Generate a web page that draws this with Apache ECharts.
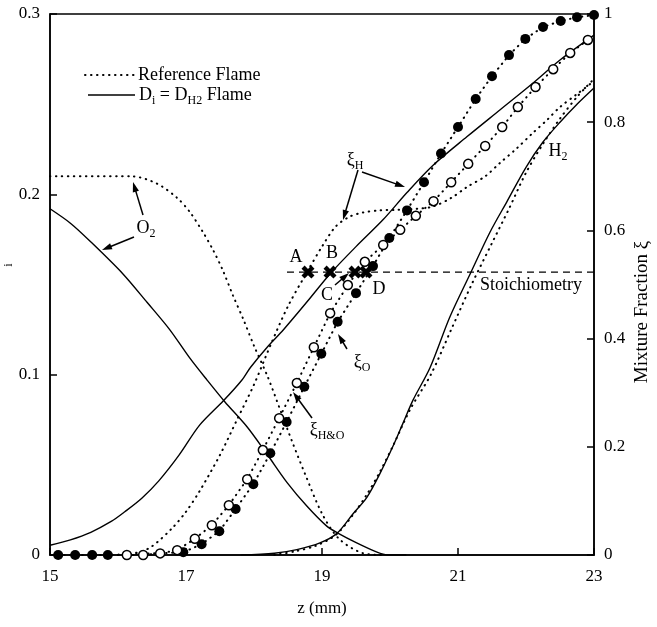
<!DOCTYPE html>
<html><head><meta charset="utf-8">
<script src="https://cdn.jsdelivr.net/npm/echarts@6/dist/echarts.min.js"></script>
<style>html,body{margin:0;padding:0;background:#fff}#c{width:657px;height:627px}</style>
</head><body><div id="c"></div>
<script>
// ---- data (z in mm) ----
const o2Ref = [[15,0.21],[16.2,0.21],[16.57,0.206],[16.87,0.198],[17.06,0.19],[17.25,0.179],[17.4,0.169],[17.54,0.158],[17.69,0.144],[17.84,0.131],[18.0,0.116],[18.2,0.099],[18.4,0.079],[18.57,0.062],[18.75,0.045],[19.0,0.023],[19.25,0.009],[19.6,0.001],[19.9,0]];
const o2Sol = [[15,0.192],[15.3,0.184],[15.59,0.174],[16.07,0.156],[16.43,0.14],[16.76,0.125],[17.06,0.109],[17.31,0.097],[17.57,0.085],[17.9,0.071],[18.19,0.056],[18.49,0.04],[18.78,0.027],[19.07,0.016],[19.24,0.012],[19.51,0.0067],[19.8,0.0017],[19.96,0],[20.24,0]];
const h2Sol = [[17.8,0],[18.3,0.001],[18.63,0.003],[18.97,0.0067],[19.22,0.012],[19.46,0.023],[19.66,0.032],[19.85,0.045],[20.04,0.06],[20.19,0.073],[20.34,0.086],[20.59,0.104],[20.88,0.132],[21.18,0.156],[21.47,0.179],[21.72,0.196],[22.0,0.215],[22.25,0.229],[22.5,0.24],[22.75,0.25],[23,0.259]];
const h2Ref = [[18.3,0],[18.6,0.002],[18.9,0.005],[19.2,0.011],[19.45,0.022],[19.65,0.033],[19.85,0.046],[20.05,0.061],[20.3,0.081],[20.6,0.1],[20.9,0.125],[21.2,0.15],[21.5,0.173],[21.75,0.192],[22.0,0.212],[22.25,0.228],[22.5,0.242],[22.75,0.254],[23,0.264]];
const xiHRef = [[16.0,0],[16.3,0.005],[16.5,0.016],[16.8,0.05],[17.0,0.08],[17.2,0.118],[17.5,0.185],[17.75,0.25],[18.0,0.315],[18.25,0.39],[18.5,0.46],[18.78,0.523],[19.0,0.57],[19.2,0.607],[19.4,0.625],[19.6,0.633],[19.85,0.637],[20.1,0.638],[20.4,0.64],[20.63,0.644],[20.9,0.66],[21.13,0.68],[21.4,0.7],[21.62,0.725],[21.85,0.75],[22.1,0.78],[22.3,0.803],[22.5,0.828],[22.75,0.852],[23,0.876]];
const xiHSol = [[15,0.018],[15.3,0.028],[15.6,0.042],[15.9,0.062],[16.1,0.08],[16.35,0.105],[16.6,0.137],[16.9,0.185],[17.2,0.24],[17.55,0.285],[17.82,0.323],[17.95,0.347],[18.2,0.385],[18.43,0.416],[18.78,0.468],[19.12,0.52],[19.5,0.57],[19.9,0.62],[20.25,0.67],[20.63,0.72],[21.13,0.773],[21.62,0.823],[22.1,0.872],[22.5,0.915],[23,0.961]];
const filledZ = [15.12,15.37,15.62,15.85,16.96,17.23,17.49,17.73,17.99,18.24,18.48,18.74,18.99,19.23,19.5,19.75,19.99,20.25,20.5,20.75,21.0,21.26,21.5,21.75,21.99,22.25,22.51,22.75,23.0];
const filledXi = [0,0,0,0,0.005,0.02,0.044,0.085,0.131,0.188,0.246,0.311,0.372,0.431,0.484,0.534,0.586,0.637,0.689,0.742,0.791,0.843,0.885,0.924,0.954,0.976,0.987,0.994,0.998];
const openZ = [16.13,16.37,16.62,16.87,17.13,17.38,17.63,17.9,18.13,18.37,18.63,18.88,19.12,19.38,19.63,19.9,20.15,20.38,20.64,20.9,21.15,21.4,21.65,21.88,22.14,22.4,22.65,22.91];
const openXi = [0,0,0.003,0.009,0.03,0.055,0.092,0.14,0.194,0.253,0.318,0.384,0.447,0.499,0.542,0.573,0.601,0.627,0.654,0.689,0.723,0.756,0.791,0.828,0.865,0.898,0.928,0.952];
const stoichXi = 0.523;
const stoichZ = [18.485, 23];
const crossZ = [18.794, 19.118, 19.485, 19.647];
const xTicks = [15, 17, 19, 21, 23];
const leftTicks = [0, 0.1, 0.2, 0.3];
const rightTicks = [0, 0.2, 0.4, 0.6, 0.8, 1];

const FONT = '"Liberation Serif","Times New Roman",serif';
const DOT = [0.5, 5.5];
const chart = echarts.init(document.getElementById('c'));

function lineSeries(data, yi, dotted, extra) {
  return Object.assign({
    type: 'line', data: data, yAxisIndex: yi, showSymbol: false, smooth: 0.3,
    silent: true, animation: false,
    lineStyle: dotted ? {color:'#000', width:2, type: DOT, cap:'round'} : {color:'#000', width:1.4}
  }, extra || {});
}
const zip = (a, b) => a.map((v, i) => [v, b[i]]);
const xPath = 'path://M0,2.4 L2.4,0 L5,2.6 L7.6,0 L10,2.4 L7.4,5 L10,7.6 L7.6,10 L5,7.4 L2.4,10 L0,7.6 L2.6,5 Z';

const axisCommon = {
  axisLine: {show: true, lineStyle: {color: '#000', width: 1.5}},
  axisTick: {show: true, inside: true, length: 7, lineStyle: {color: '#000', width: 1.5}},
  splitLine: {show: false},
  axisLabel: {color: '#000', fontFamily: FONT, fontSize: 17}
};

chart.setOption({
  animation: false,
  backgroundColor: '#fff',
  grid: {left: 50, right: 63, top: 14, bottom: 72, show: true, borderColor: '#000', borderWidth: 1.5,
         containLabel: false, outerBoundsMode: 'none'},
  xAxis: Object.assign({}, axisCommon, {
    type: 'value', min: xTicks[0], max: xTicks[xTicks.length-1], interval: 2,
    name: 'z (mm)', nameLocation: 'middle', nameGap: 45,
    nameTextStyle: {color: '#000', fontFamily: FONT, fontSize: 17},
    axisLabel: Object.assign({}, axisCommon.axisLabel, {margin: 13})
  }),
  yAxis: [
    Object.assign({}, axisCommon, {
      type: 'value', min: leftTicks[0], max: leftTicks[leftTicks.length-1], interval: 0.1, position: 'left',
      axisLabel: Object.assign({}, axisCommon.axisLabel, {margin: 10})
    }),
    Object.assign({}, axisCommon, {
      type: 'value', min: rightTicks[0], max: rightTicks[rightTicks.length-1], interval: 0.2, position: 'right',
      axisLabel: Object.assign({}, axisCommon.axisLabel, {margin: 10})
    })
  ],
  series: [
    lineSeries(o2Ref, 0, true),
    lineSeries(o2Sol, 0, false),
    lineSeries(h2Ref, 0, true),
    lineSeries(h2Sol, 0, false),
    lineSeries(xiHRef, 1, true),
    lineSeries(xiHSol, 1, false),
    {type: 'line', yAxisIndex: 1, data: [[stoichZ[0], stoichXi], [stoichZ[1], stoichXi]], showSymbol: false,
     lineStyle: {color: '#000', width: 1.3, type: [7, 5]}, silent: true},
    lineSeries(zip(filledZ, filledXi), 1, true, {showSymbol: true, symbol: 'circle', symbolSize: 10, smooth: false,
      itemStyle: {color: '#000'}}),
    lineSeries(zip(openZ, openXi), 1, true, {showSymbol: true, symbol: 'circle', symbolSize: 9, smooth: false,
      itemStyle: {color: '#fff', borderColor: '#000', borderWidth: 1.5}}),
    {type: 'scatter', yAxisIndex: 1, data: crossZ.map(z => [z, stoichXi]), symbol: xPath, symbolSize: 13,
     itemStyle: {color: '#000', opacity: 1}, silent: true, z: 5}
  ]
});

// ---- annotations ----
function arrow(x1, y1, x2, y2) {
  const a = Math.atan2(y2 - y1, x2 - x1), L = 10, W = 3.2;
  const bx = x2 - L * Math.cos(a), by = y2 - L * Math.sin(a);
  return [
    {type: 'line', shape: {x1: x1, y1: y1, x2: bx + 2*Math.cos(a), y2: by + 2*Math.sin(a)}, style: {stroke: '#000', lineWidth: 1.5}},
    {type: 'polygon', shape: {points: [[x2, y2], [bx + W*Math.sin(a), by - W*Math.cos(a)], [bx - W*Math.sin(a), by + W*Math.cos(a)]]}, style: {fill: '#000'}}
  ];
}
const rich = {
  a: {fontFamily: FONT, fontSize: 18, fill: '#000', lineHeight: 24, verticalAlign: 'middle'},
  s: {fontFamily: FONT, fontSize: 12, fill: '#000', lineHeight: 24, verticalAlign: 'bottom'}
};
function label(x, y, text, align) {
  return {type: 'text', x: x, y: y, style: {text: text, rich: rich, align: align || 'center', verticalAlign: 'middle'}};
}
const g = [
  {type: 'line', shape: {x1: 85, y1: 75, x2: 135, y2: 75}, style: {stroke: '#000', lineWidth: 2, lineDash: DOT, lineCap: 'round'}},
  label(138, 75, '{a|Reference Flame}', 'left'),
  {type: 'line', shape: {x1: 88, y1: 95, x2: 135, y2: 95}, style: {stroke: '#000', lineWidth: 1.4}},
  label(139, 95, '{a|D}{s|i}{a| = D}{s|H2}{a| Flame}', 'left'),
  label(146, 228, '{a|O}{s|2}'),
  label(355, 160, '{a|ξ}{s|H}'),
  label(296, 257, '{a|A}'),
  label(332, 253, '{a|B}'),
  label(327, 295, '{a|C}'),
  label(379, 289, '{a|D}'),
  label(362, 362, '{a|ξ}{s|O}'),
  label(327, 430, '{a|ξ}{s|H&O}'),
  label(558, 151, '{a|H}{s|2}'),
  label(480, 285, '{a|Stoichiometry}', 'left'),
  {type: 'text', x: 9, y: 265, rotation: Math.PI / 2,
   style: {text: 'i', font: '12px ' + FONT, fill: '#000', align: 'center', verticalAlign: 'middle'}},
  {type: 'text', x: 642, y: 312, rotation: Math.PI / 2,
   style: {text: 'Mixture Fraction ξ', font: '19px ' + FONT, fill: '#000', align: 'center', verticalAlign: 'middle'}}
].concat(
  arrow(143, 215, 133, 182),
  arrow(134, 237, 102, 250),
  arrow(358, 170, 343, 220),
  arrow(362, 172, 405, 187),
  arrow(335, 285, 349, 273),
  arrow(347, 349, 338, 334),
  arrow(312, 418, 293, 392)
);
chart.setOption({graphic: g.map(e => Object.assign({silent: true, z: 10}, e))});
</script></body></html>
